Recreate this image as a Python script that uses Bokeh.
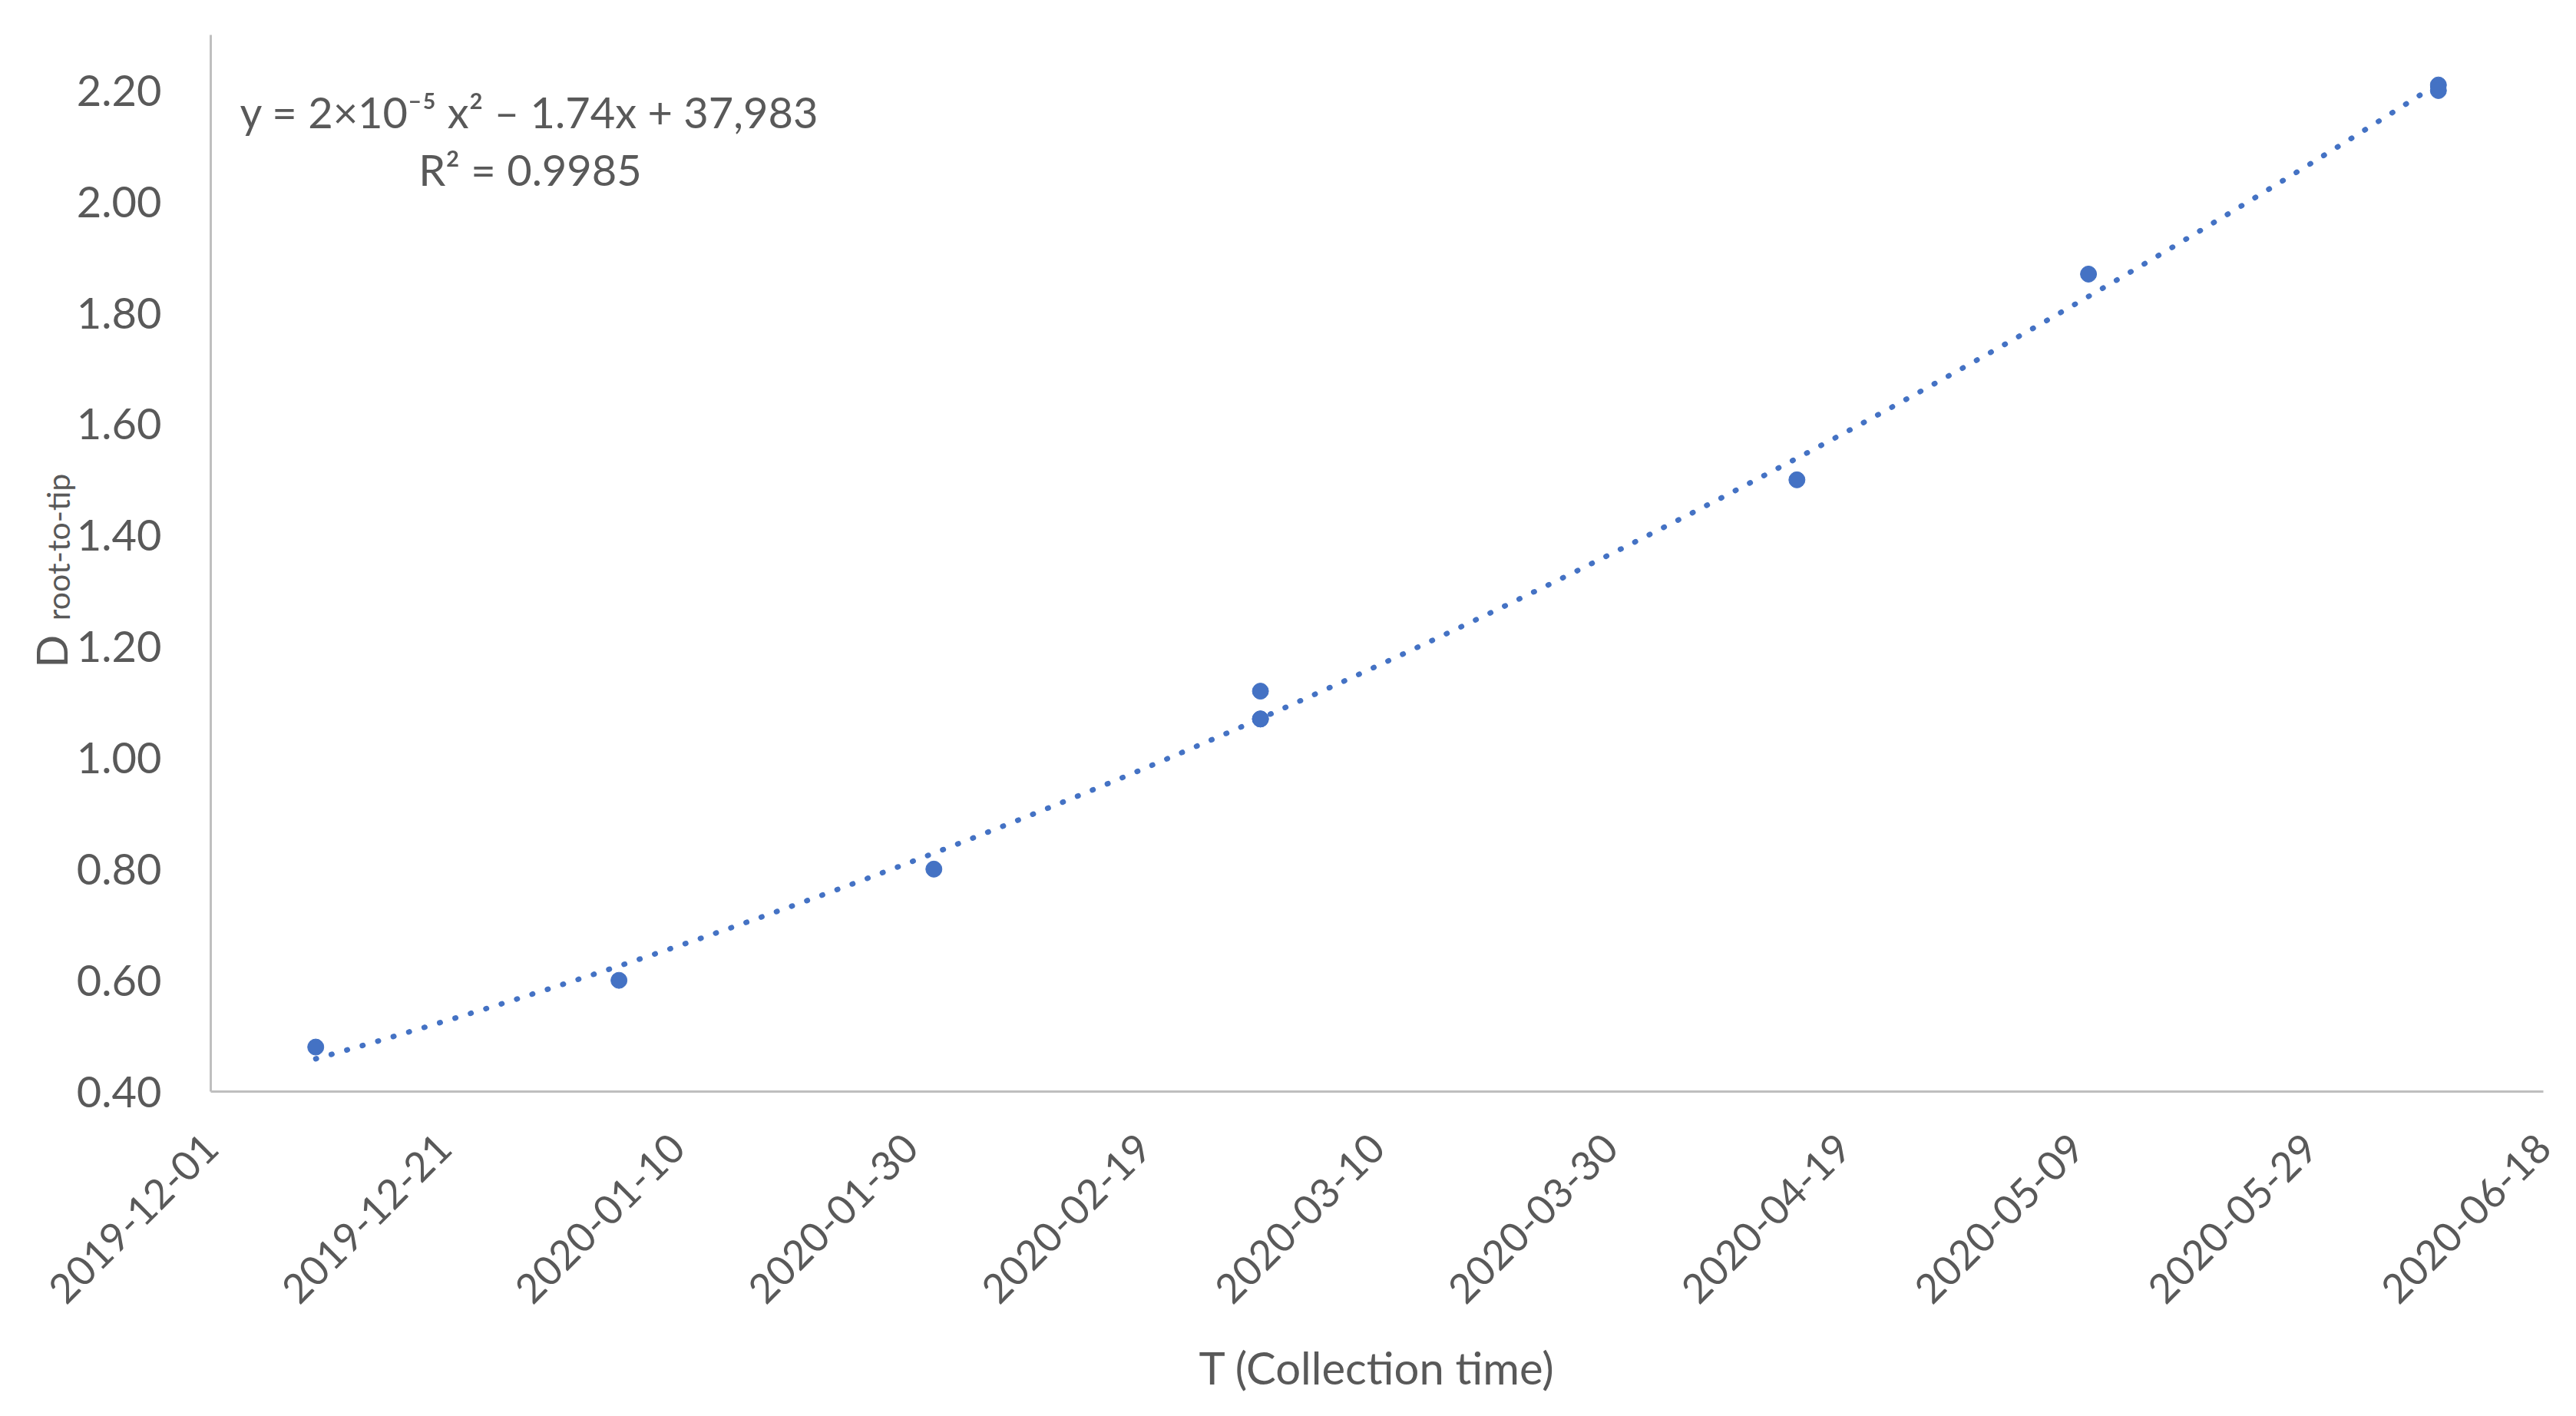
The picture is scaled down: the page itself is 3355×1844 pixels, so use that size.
import numpy as np
import pandas as pd
from math import pi
from bokeh.plotting import figure
from bokeh.models import (FixedTicker, Label, ColumnDataSource, Range1d, LinearAxis,
                          CustomJSTickFormatter, NumeralTickFormatter)
from bokeh.embed import file_html
from bokeh.resources import INLINE

# ---------------- data ----------------
collection_dates = ["2019-12-10", "2020-01-05", "2020-02-01", "2020-02-29", "2020-02-29",
                    "2020-02-29", "2020-04-15", "2020-05-10", "2020-06-09", "2020-06-09"]
d_root_to_tip = [0.48, 0.60, 0.80, 1.12, 1.07, 1.07, 1.50, 1.87, 2.21, 2.20]

x_tick_dates = ["2019-12-01", "2019-12-21", "2020-01-10", "2020-01-30", "2020-02-19",
                "2020-03-10", "2020-03-30", "2020-04-19", "2020-05-09", "2020-05-29",
                "2020-06-18"]
y_ticks = [0.40, 0.60, 0.80, 1.00, 1.20, 1.40, 1.60, 1.80, 2.00, 2.20]
y_max = 2.30

equation_text = "y = 2×10⁻⁵ x² – 1.74x + 37,983"
r2_text = "R² = 0.9985"
x_title = "T (Collection time)"
y_title_main = "D"
y_title_sub = "root-to-tip"

# ---------------- derived ----------------
def to_ms(s):
    return pd.Timestamp(s).value / 1e6

x_ms = np.array([to_ms(d) for d in collection_dates])
tick_ms = [to_ms(d) for d in x_tick_dates]
DAY = 86400000.0

# polynomial (order 2) trendline fitted to the points
days = (x_ms - x_ms.min()) / DAY
coef = np.polyfit(days, np.array(d_root_to_tip), 2)
fit_days = np.linspace(days.min(), days.max(), 400)
fit_x = x_ms.min() + fit_days * DAY
fit_y = np.polyval(coef, fit_days)

FONT = "Lato"
TXT = "#595959"
BLUE = "#4472C4"
NBSP = "\u00a0"

p = figure(width=3350, height=1840, output_backend="svg", toolbar_location=None,
           x_axis_type="datetime",
           x_range=Range1d(tick_ms[0], tick_ms[-1]),
           y_range=Range1d(y_ticks[0], y_max),
           min_border_left=274, min_border_right=38,
           min_border_top=45, min_border_bottom=419)
p.outline_line_color = None
p.xgrid.visible = False
p.ygrid.visible = False

src = ColumnDataSource(dict(x=x_ms, y=d_root_to_tip))
fit_src = ColumnDataSource(dict(x=fit_x, y=fit_y))

p.line("x", "y", source=fit_src, line_color=BLUE, line_width=7,
       line_dash="1 20", line_cap="round")
p.scatter("x", "y", source=src, size=21, fill_color=BLUE, line_color=BLUE)

for ax in (p.xaxis[0], p.yaxis[0]):
    ax.axis_line_color = "#BFBFBF"
    ax.axis_line_width = 3
    ax.major_tick_line_color = None
    ax.minor_tick_line_color = None
    ax.major_label_text_font = FONT
    ax.major_label_text_color = TXT
    ax.axis_label_text_font = FONT
    ax.axis_label_text_color = TXT
    ax.axis_label_text_font_style = "normal"

p.xaxis.ticker = FixedTicker(ticks=tick_ms)
p.xaxis.formatter = CustomJSTickFormatter(
    code="const d = new Date(tick); return d.toISOString().slice(0, 10);")
p.xaxis.major_label_orientation = pi / 4
p.xaxis.major_label_text_font_size = "53px"
p.xaxis.major_label_standoff = 58
p.xaxis.axis_label = x_title
p.xaxis.axis_label_text_font_size = "58px"
p.xaxis.axis_label_standoff = 29

p.yaxis.ticker = FixedTicker(ticks=y_ticks)
p.yaxis.formatter = NumeralTickFormatter(format="0.00")
p.yaxis.major_label_text_font_size = "56px"
p.yaxis.major_label_standoff = 58


# y-axis title "D" with subscript "root-to-tip": two label-only axes stacked on the left
def title_axis(text, size, standoff):
    return LinearAxis(axis_label=text, ticker=FixedTicker(ticks=[]),
                      axis_line_color=None, major_tick_line_color=None,
                      minor_tick_line_color=None, major_tick_out=0, major_tick_in=0,
                      minor_tick_out=0, minor_tick_in=0, major_label_standoff=0,
                      axis_label_standoff=standoff, axis_label_text_font=FONT,
                      axis_label_text_font_size=size, axis_label_text_color=TXT,
                      axis_label_text_font_style="normal")


p.add_layout(title_axis(NBSP * 4 + y_title_sub, "41px", -3), "left")
p.add_layout(title_axis(y_title_main + NBSP * 16, "56px", -52), "left")

# trendline equation
p.add_layout(Label(x=38, y=1276, x_units="screen", y_units="screen", text=equation_text,
                   text_align="left", text_baseline="middle",
                   text_font=FONT, text_font_size="56px", text_color=TXT))
p.add_layout(Label(x=416, y=1201, x_units="screen", y_units="screen", text=r2_text,
                   text_align="center", text_baseline="middle",
                   text_font=FONT, text_font_size="56px", text_color=TXT))

open("out.html", "w").write(file_html(p, INLINE))
